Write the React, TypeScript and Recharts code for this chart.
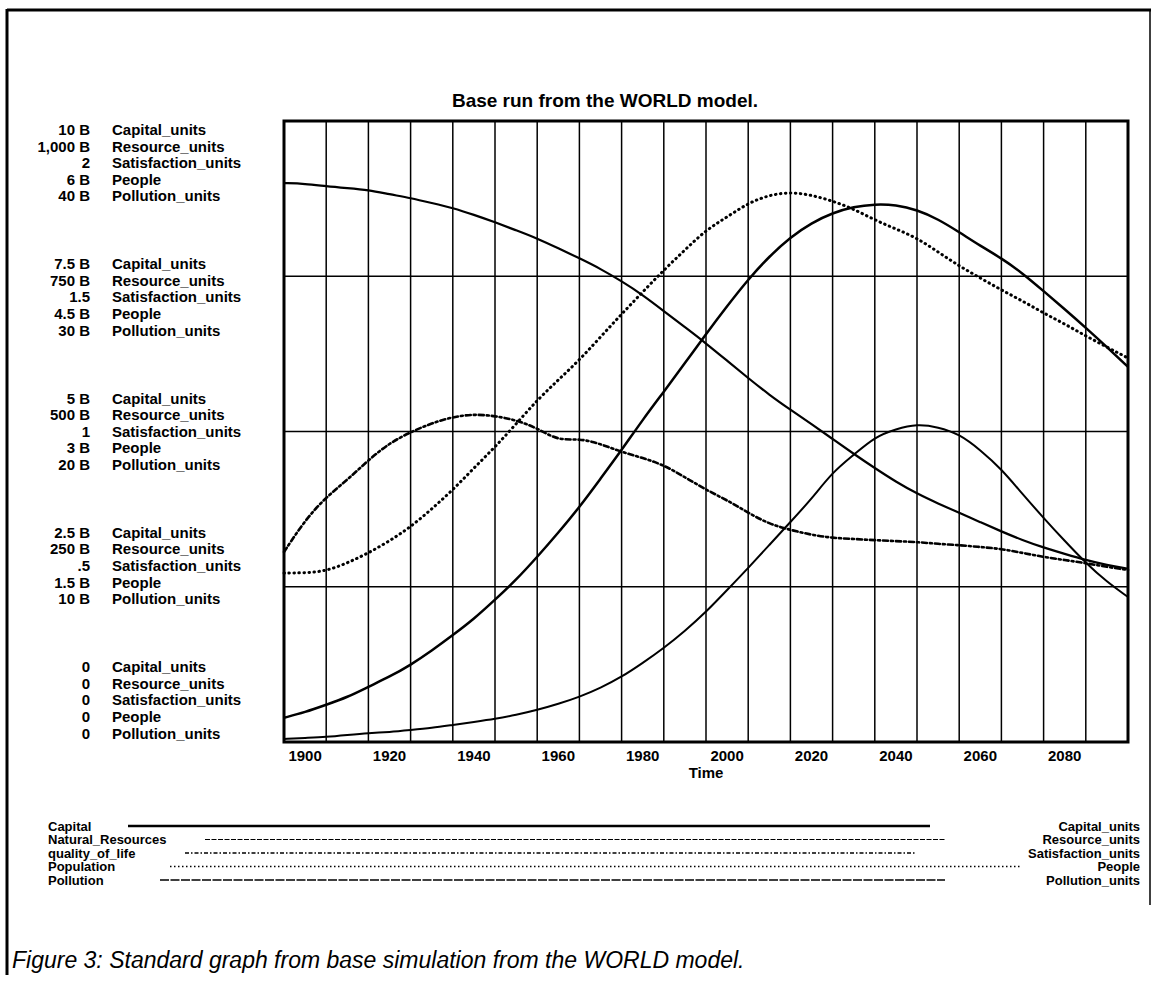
import { CartesianGrid, Line, LineChart, ReferenceArea, ReferenceLine, XAxis, YAxis } from 'recharts'

// simulation output, every 5 years
const years = [
  1895, 1900, 1905, 1910, 1915, 1920, 1925, 1930, 1935, 1940, 1945,
  1950, 1955, 1960, 1965, 1970, 1975, 1980, 1985, 1990, 1995, 2000,
  2005, 2010, 2015, 2020, 2025, 2030, 2035, 2040, 2045, 2050, 2055,
  2060, 2065, 2070, 2075, 2080, 2085, 2090, 2095,
]
const capital = [
  0.39, 0.48, 0.6, 0.72, 0.89, 1.05, 1.24, 1.47, 1.72, 1.98, 2.29,
  2.61, 2.98, 3.37, 3.78, 4.24, 4.7, 5.19, 5.64, 6.1, 6.57, 7.02,
  7.45, 7.82, 8.13, 8.36, 8.52, 8.62, 8.66, 8.65, 8.57, 8.42, 8.21,
  7.99, 7.79, 7.55, 7.26, 6.97, 6.67, 6.36, 6.04,
]
const naturalResources = [
  900, 899, 895, 892, 889, 882, 876, 868, 860, 849, 837,
  824, 811, 795, 779, 762, 742, 720, 694, 668, 642, 614,
  586, 559, 535, 512, 488, 464, 441, 419, 400, 384, 369,
  354, 339, 325, 313, 303, 293, 285, 279,
]
const qualityOfLife = [
  0.612, 0.715, 0.789, 0.844, 0.908, 0.963, 0.998, 1.027, 1.047, 1.056, 1.05,
  1.037, 1.011, 0.97, 0.978, 0.96, 0.934, 0.915, 0.892, 0.853, 0.812, 0.779,
  0.738, 0.702, 0.683, 0.667, 0.657, 0.654, 0.65, 0.647, 0.644, 0.638, 0.634,
  0.628, 0.622, 0.609, 0.596, 0.586, 0.576, 0.564, 0.554,
]
const population = [
  1.633, 1.633, 1.652, 1.729, 1.826, 1.942, 2.077, 2.251, 2.435, 2.647, 2.85,
  3.072, 3.304, 3.498, 3.691, 3.913, 4.135, 4.348, 4.56, 4.754, 4.947, 5.072,
  5.208, 5.285, 5.314, 5.285, 5.227, 5.15, 5.043, 4.957, 4.87, 4.734, 4.599,
  4.483, 4.367, 4.261, 4.145, 4.039, 3.923, 3.816, 3.71,
]
const pollution = [
  0.19, 0.26, 0.32, 0.45, 0.58, 0.64, 0.77, 0.9, 1.1, 1.29, 1.48,
  1.74, 2.06, 2.45, 2.9, 3.48, 4.19, 5.09, 6.05, 7.15, 8.37, 9.79,
  11.21, 12.69, 14.17, 15.65, 17.39, 18.49, 19.65, 20.16, 20.48, 20.29, 19.84,
  18.81, 17.58, 15.97, 14.43, 12.95, 11.53, 10.31, 9.34,
]

const seriesNames = ['Capital', 'Natural_Resources', 'quality_of_life', 'Population', 'Pollution']
const unitNames = ['Capital_units', 'Resource_units', 'Satisfaction_units', 'People', 'Pollution_units']

const capitalTicks = ['0', '2.5 B', '5 B', '7.5 B', '10 B']
const resourceTicks = ['0', '250 B', '500 B', '750 B', '1,000 B']
const qualityTicks = ['0', '.5', '1', '1.5', '2']
const populationTicks = ['0', '1.5 B', '3 B', '4.5 B', '6 B']
const pollutionTicks = ['0', '10 B', '20 B', '30 B', '40 B']

const capitalLevels = [0, 2.5, 5, 7.5, 10]
const xTickYears = [1900, 1920, 1940, 1960, 1980, 2000, 2020, 2040, 2060, 2080]
const gridYears = [
  1905, 1915, 1925, 1935, 1945, 1955, 1965, 1975, 1985, 1995,
  2005, 2015, 2025, 2035, 2045, 2055, 2065, 2075, 2085,
]

const data = years.map((year, i) => ({
  year,
  capital: capital[i],
  resources: naturalResources[i],
  quality: qualityOfLife[i],
  population: population[i],
  pollution: pollution[i],
}))

const FONT = '"Liberation Sans", Arial, Helvetica, sans-serif'
const W = 1154
const H = 981
const PLOT_TOP = 121
const PLOT_BOTTOM = 742

// legend line styles: [x1, x2, width, dash]
const legendLines: [number, number, number, string | undefined][] = [
  [128, 930, 2.5, undefined],
  [205, 945, 1.2, '5 1.5'],
  [185, 915, 1.6, '4 2 1.5 2'],
  [170, 1020, 1.6, '1.5 2.5'],
  [160, 945, 1.4, '9 1.5'],
]

function LevelTick(props: any) {
  const { y, payload } = props
  const level = capitalLevels.indexOf(payload.value)
  const mid = (PLOT_TOP + PLOT_BOTTOM) / 2
  const cy = y + (mid - y) * 0.135
  const values = [
    capitalTicks[level],
    resourceTicks[level],
    qualityTicks[level],
    populationTicks[level],
    pollutionTicks[level],
  ]
  return (
    <g fontFamily={FONT} fontWeight="bold" fontSize={15} fill="#000">
      {values.map((v, k) => {
        const ly = cy + (k - 2) * 16.6
        return (
          <g key={k}>
            <text x={90} y={ly} dy="0.35em" textAnchor="end">
              {v}
            </text>
            <text x={112} y={ly} dy="0.35em" textAnchor="start">
              {unitNames[k]}
            </text>
          </g>
        )
      })}
    </g>
  )
}

function Overlay() {
  return (
    <svg width={W} height={H} style={{ position: 'absolute', left: 0, top: 0, pointerEvents: 'none' }}>
      {/* page frame */}
      <line x1={7} y1={10} x2={1151} y2={10} stroke="#000" strokeWidth={3} />
      <line x1={7} y1={9} x2={7} y2={975} stroke="#000" strokeWidth={3} />
      <line x1={1150} y1={9} x2={1150} y2={905} stroke="#000" strokeWidth={1.5} />
      <text x={605} y={100} dy="0.35em" textAnchor="middle" fontFamily={FONT} fontWeight="bold" fontSize={19}>
        Base run from the WORLD model.
      </text>
      <g fontFamily={FONT} fontWeight="bold" fontSize={13}>
        {seriesNames.map((name, i) => {
          const ly = 826 + i * 13.5
          const [x1, x2, sw, dash] = legendLines[i]
          return (
            <g key={name}>
              <text x={48} y={ly} dy="0.35em">
                {name}
              </text>
              <line x1={x1} y1={ly} x2={x2} y2={ly} stroke="#000" strokeWidth={sw} strokeDasharray={dash} />
              <text x={1140} y={ly} dy="0.35em" textAnchor="end">
                {unitNames[i]}
              </text>
            </g>
          )
        })}
      </g>
      <text x={12} y={960} dy="0.35em" fontFamily={FONT} fontStyle="italic" fontSize={23}>
        Figure 3:  Standard graph from base simulation from the WORLD model.
      </text>
    </svg>
  )
}

export default function App() {
  return (
    <div style={{ position: 'absolute', left: 0, top: 0, width: W, height: H, background: '#fff' }}>
      <LineChart
        width={W}
        height={800}
        data={data}
        margin={{ top: PLOT_TOP, right: W - 1128, left: 0, bottom: 800 - PLOT_BOTTOM - 40 }}
        style={{ fontFamily: FONT }}
      >
        <CartesianGrid yAxisId="cap" vertical={false} stroke="#000" strokeWidth={1.5} />
        <XAxis
          dataKey="year"
          type="number"
          domain={[1895, 2095]}
          ticks={xTickYears}
          interval={0}
          axisLine={false}
          tickLine={false}
          height={40}
          tick={{ fill: '#000', fontSize: 15, fontWeight: 'bold' }}
          label={{ value: 'Time', position: 'insideBottom', offset: 4, fill: '#000', fontSize: 15, fontWeight: 'bold' }}
        />
        <YAxis
          yAxisId="cap"
          width={284}
          domain={[0, 10]}
          ticks={capitalLevels}
          interval={0}
          axisLine={false}
          tickLine={false}
          tick={<LevelTick />}
        />
        <YAxis yAxisId="res" hide domain={[0, 1000]} />
        <YAxis yAxisId="qol" hide domain={[0, 2]} />
        <YAxis yAxisId="pop" hide domain={[0, 6]} />
        <YAxis yAxisId="pol" hide domain={[0, 40]} />
        {gridYears.map((yr) => (
          <ReferenceLine key={yr} x={yr} yAxisId="cap" stroke="#000" strokeWidth={1.5} />
        ))}
        <ReferenceArea
          yAxisId="cap"
          x1={1895}
          x2={2095}
          y1={0}
          y2={10}
          fill="none"
          stroke="#000"
          strokeWidth={3}
          ifOverflow="visible"
        />
        <Line yAxisId="cap" dataKey="capital" type="basis" stroke="#000" strokeWidth={2.5} dot={false} isAnimationActive={false} />
        <Line yAxisId="res" dataKey="resources" type="basis" stroke="#000" strokeWidth={2.2} dot={false} isAnimationActive={false} />
        <Line
          yAxisId="qol"
          dataKey="quality"
          type="basis"
          stroke="#000"
          strokeWidth={2.6}
          strokeDasharray="5 3 2 3"
          strokeLinecap="round"
          dot={false}
          isAnimationActive={false}
        />
        <Line
          yAxisId="pop"
          dataKey="population"
          type="basis"
          stroke="#000"
          strokeWidth={3}
          strokeDasharray="0.5 4.5"
          strokeLinecap="round"
          dot={false}
          isAnimationActive={false}
        />
        <Line yAxisId="pol" dataKey="pollution" type="basis" stroke="#000" strokeWidth={2} dot={false} isAnimationActive={false} />
      </LineChart>
      <Overlay />
    </div>
  )
}
